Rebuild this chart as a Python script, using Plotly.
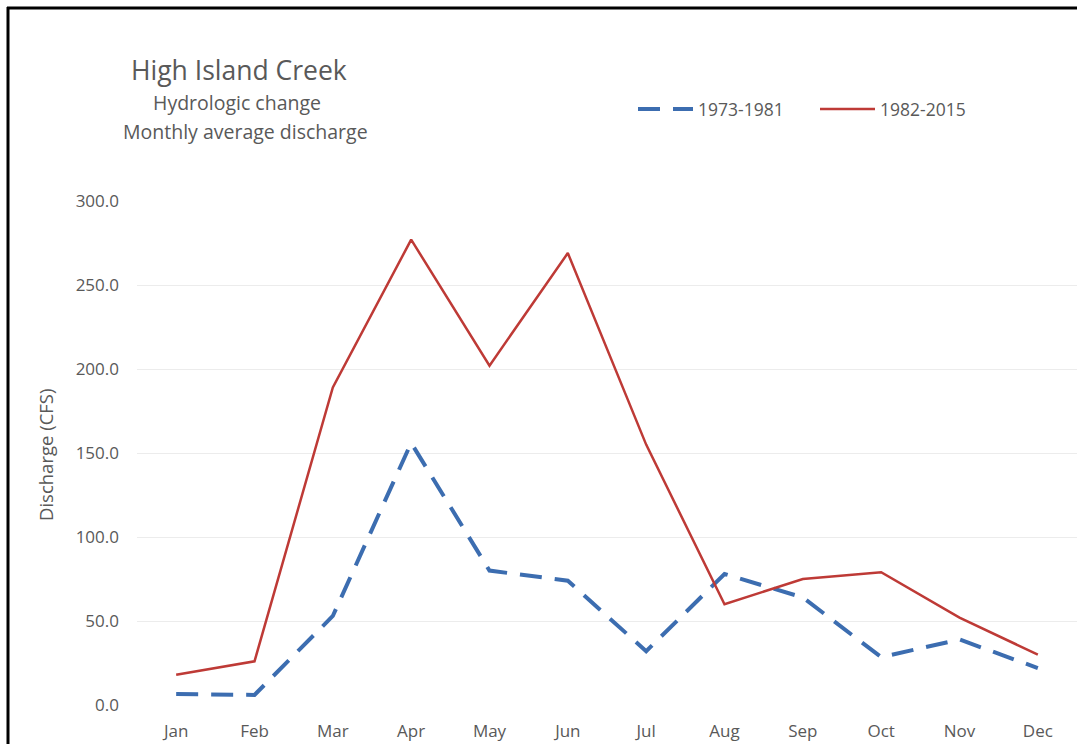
import plotly.graph_objects as go

months = ["Jan", "Feb", "Mar", "Apr", "May", "Jun", "Jul", "Aug", "Sep", "Oct", "Nov", "Dec"]
period_1973_1981 = [6.5, 6.0, 53.0, 156.0, 80.0, 74.0, 32.0, 78.0, 64.0, 28.5, 39.0, 22.0]
period_1982_2015 = [18.0, 26.0, 189.0, 277.0, 202.0, 269.0, 155.0, 60.0, 75.0, 79.0, 52.0, 30.0]
y_ticks = [0, 50, 100, 150, 200, 250, 300]

W, H = 1077, 744
L, R, T, B = 137, 0, 201, 39
PW, PH = W - L - R, H - T - B

def px_x(x):
    return (x - L) / PW

def px_y(y):
    return (H - B - y) / PH

grey = "#595959"
font_family = "Open Sans, Liberation Sans, sans-serif"

fig = go.Figure()
fig.add_trace(go.Scatter(
    x=months, y=period_1973_1981, mode="lines", name="1973-1981",
    line=dict(color="#3C6DB0", width=4, dash="22px,13px"),
))
fig.add_trace(go.Scatter(
    x=months, y=period_1982_2015, mode="lines", name="1982-2015",
    line=dict(color="#BE3A36", width=2.5),
))

fig.update_layout(
    width=W, height=H,
    margin=dict(l=L, r=R, t=T, b=B, autoexpand=False),
    paper_bgcolor="white", plot_bgcolor="white",
    font=dict(family=font_family, color=grey, size=17),
    showlegend=True,
    legend=dict(
        orientation="h", x=px_x(633), y=px_y(109), xanchor="left", yanchor="middle",
        font=dict(size=17.5, color=grey), itemwidth=55, bgcolor="rgba(0,0,0,0)",
        entrywidth=112, entrywidthmode="pixels",
    ),
    xaxis=dict(
        type="category", range=[-0.5, 11.5], showgrid=False, showline=False,
        zeroline=False, ticks="", ticklabelstandoff=14,
        tickfont=dict(size=17, color=grey),
    ),
    yaxis=dict(
        range=[0, 300], tickvals=y_ticks, tickformat=".1f",
        showgrid=True, gridcolor="#ececec", gridwidth=1,
        zeroline=False, showline=False, ticks="", ticklabelstandoff=17,
        tickfont=dict(size=17, color=grey),
    ),
)

annotations = [
    dict(text="High Island Creek", x=px_x(239), y=px_y(70), font=dict(size=26.5, color=grey)),
    dict(text="Hydrologic change", x=px_x(237), y=px_y(102), font=dict(size=19.5, color=grey)),
    dict(text="Monthly average discharge", x=px_x(245), y=px_y(131), font=dict(size=19.5, color=grey)),
    dict(text="Discharge (CFS)", x=px_x(45), y=px_y(455), textangle=-90, font=dict(size=18.5, color=grey)),
]
for a in annotations:
    fig.add_annotation(xref="paper", yref="paper", xanchor="center", yanchor="middle",
                       showarrow=False, **a)

# frame: only the top and left edges are visible in the reference
fig.add_shape(type="line", xref="paper", yref="paper",
              x0=px_x(7), x1=px_x(1077), y0=px_y(8), y1=px_y(8),
              line=dict(color="black", width=3), layer="above")
fig.add_shape(type="line", xref="paper", yref="paper",
              x0=px_x(8), x1=px_x(8), y0=px_y(7), y1=px_y(744),
              line=dict(color="black", width=3), layer="above")

fig.write_html("out.html")
